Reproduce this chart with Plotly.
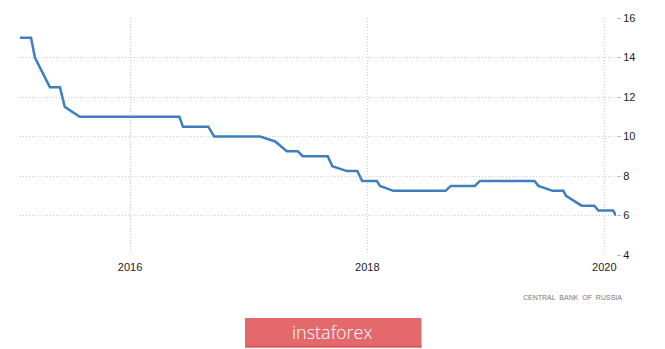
import plotly.graph_objects as go

# Key rate (%)
dates = [
    "2015-01-27", "2015-03-02", "2015-03-14", "2015-04-29", "2015-05-30", "2015-06-14",
    "2015-07-30", "2016-06-01", "2016-06-12", "2016-08-29", "2016-09-16", "2017-02-05",
    "2017-03-23", "2017-04-28", "2017-06-01", "2017-06-16", "2017-09-01", "2017-09-15",
    "2017-10-30", "2017-12-01", "2017-12-16", "2018-01-30", "2018-02-09", "2018-03-22",
    "2018-08-30", "2018-09-15", "2018-11-28", "2018-12-14", "2019-05-31", "2019-06-12",
    "2019-07-26", "2019-08-28", "2019-09-05", "2019-10-23", "2019-12-01", "2019-12-14",
    "2020-01-28", "2020-02-06",
]
rates = [
    15, 15, 14, 12.5, 12.5, 11.5,
    11, 11, 10.5, 10.5, 10, 10,
    9.75, 9.25, 9.25, 9, 9, 8.5,
    8.25, 8.25, 7.75, 7.75, 7.5, 7.25,
    7.25, 7.5, 7.5, 7.75, 7.75, 7.5,
    7.25, 7.25, 7, 6.5, 6.5, 6.25,
    6.25, 6,
]
x_ticks = ["2016-01-01", "2018-01-01", "2020-01-01"]
x_labels = ["2016", "2018", "2020"]
y_ticks = [4, 6, 8, 10, 12, 14, 16]
source = "CENTRAL  BANK  OF  RUSSIA"
brand = "instaforex"

fig = go.Figure()
fig.add_trace(go.Scatter(
    x=dates, y=rates, mode="lines",
    line=dict(color="#3f7fbd", width=2.5),
    hoverinfo="skip", showlegend=False,
))

grid = dict(showgrid=True, gridcolor="#cccccc", griddash="1px,2px", gridwidth=1)

fig.update_layout(
    width=665, height=349,
    margin=dict(l=20, r=49, t=18, b=94),
    paper_bgcolor="white", plot_bgcolor="white",
    font=dict(family="Liberation Sans, Arial, sans-serif", size=11, color="#222222"),
    xaxis=dict(
        range=["2015-01-27", "2020-02-06"],
        tickmode="array", tickvals=x_ticks, ticktext=x_labels,
        showline=False, zeroline=False, ticks="", ticklabelstandoff=4,
        tickfont=dict(size=11, color="#222222"),
        **grid,
    ),
    yaxis=dict(
        range=[4, 16], side="right",
        tickmode="array", tickvals=y_ticks,
        showline=False, zeroline=False,
        ticks="outside", ticklen=4, tickcolor="#bbbbbb",
        tickfont=dict(size=11, color="#222222"),
        **grid,
    ),
)

W = 596.0
H = 237.0
def px(x):
    return (x - 20) / W
def py(y):
    return (255 - y) / H

fig.add_annotation(
    text=source, xref="paper", yref="paper",
    x=px(624), y=py(297), xanchor="right", yanchor="middle",
    showarrow=False, font=dict(size=7, color="#777777"),
)

fig.add_shape(type="rect", xref="paper", yref="paper",
              x0=px(245), x1=px(421.5), y0=py(347.5), y1=py(318),
              fillcolor="#e4696d", line=dict(width=0), layer="above")
fig.add_shape(type="rect", xref="paper", yref="paper",
              x0=px(245), x1=px(421.5), y0=py(347.5), y1=py(345.5),
              fillcolor="#d35a5e", line=dict(width=0), layer="above")
fig.add_annotation(
    text=brand, xref="paper", yref="paper",
    x=px(332), y=py(332), xanchor="center", yanchor="middle",
    showarrow=False, font=dict(family="Open Sans, sans-serif", size=18, color="white", weight=300),
)

fig.write_html("out.html")
